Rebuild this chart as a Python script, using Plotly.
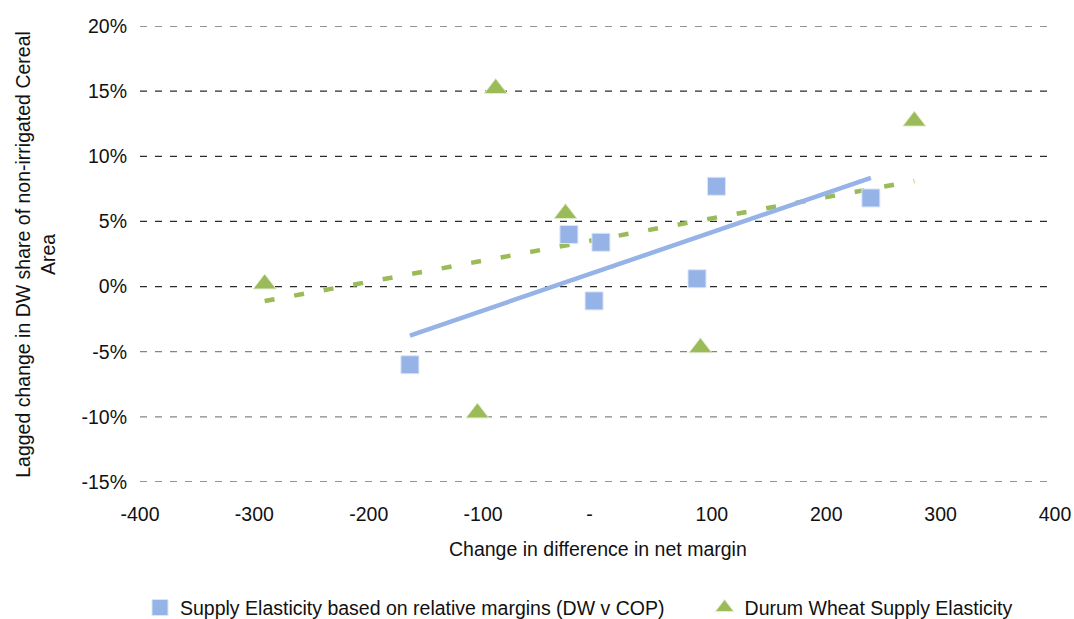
import numpy as np
import plotly.graph_objects as go

# Supply Elasticity based on relative margins (DW v COP)
blue_x = [-164, -25, 3, -3, 87, 104, 239]
blue_y = [-0.060, 0.040, 0.034, -0.011, 0.006, 0.077, 0.068]

# Durum Wheat Supply Elasticity
green_x = [-291, -89, -28, -105, 90, 277]
green_y = [0.002, 0.152, 0.056, -0.097, -0.047, 0.127]

x_ticks = [-400, -300, -200, -100, 0, 100, 200, 300, 400]
x_ticktext = ["-400", "-300", "-200", "-100", "-\u00a0\u00a0\u00a0", "100", "200", "300", "400"]
y_ticks = [-0.15, -0.10, -0.05, 0.0, 0.05, 0.10, 0.15, 0.20]
y_ticktext = ["-15%", "-10%", "-5%", "0%", "5%", "10%", "15%", "20%"]

series_names = ["Supply Elasticity based on relative margins (DW v COP)",
                "Durum Wheat Supply Elasticity"]

BLUE = "#95B3E7"
GREEN = "#9BBB59"
FONT = "Liberation Sans, Arial, sans-serif"
FS = 19.5

fig = go.Figure()

# trendlines (linear fit over data range)
bx = np.array(blue_x, dtype=float); by = np.array(blue_y)
gx = np.array(green_x, dtype=float); gy = np.array(green_y)
bp = np.polyfit(bx, by, 1)
gp = np.polyfit(gx, gy, 1)
bxl = np.array([bx.min(), bx.max()])
gxl = np.array([gx.min(), gx.max()])

fig.add_trace(go.Scatter(x=gxl, y=np.polyval(gp, gxl), mode="lines",
                         line=dict(color=GREEN, width=4.5, dash="10px,20px"),
                         showlegend=False, hoverinfo="skip"))
fig.add_trace(go.Scatter(x=bxl, y=np.polyval(bp, bxl), mode="lines",
                         line=dict(color=BLUE, width=4.5),
                         showlegend=False, hoverinfo="skip"))

fig.add_trace(go.Scatter(x=blue_x, y=blue_y, mode="markers", name=series_names[0],
                         legend="legend",
                         marker=dict(symbol="square", size=18, color=BLUE,
                                     line=dict(color="#DCE6F5", width=1))))
fig.add_trace(go.Scatter(x=green_x, y=green_y, mode="markers", name=series_names[1],
                         legend="legend2",
                         marker=dict(symbol="triangle-up", size=20, color=GREEN,
                                     line=dict(color="#E3EDD0", width=1))))

# dashed gridlines
for yv in y_ticks:
    col = "#858585" if (-0.15 < yv < 0) else "#2b2b2b"
    fig.add_shape(type="line", xref="paper", yref="y", x0=0, x1=1, y0=yv, y1=yv,
                  line=dict(color=col, width=1.2, dash="7px,8px"), layer="below")

legend_common = dict(orientation="h", xanchor="left", y=-0.276, yanchor="middle",
                     font=dict(size=FS), bgcolor="rgba(0,0,0,0)")

fig.update_layout(
    width=1074, height=619,
    margin=dict(l=140, r=19, t=26, b=137, autoexpand=False),
    paper_bgcolor="white", plot_bgcolor="white",
    font=dict(family=FONT, size=FS, color="#111111"),
    showlegend=True,
    legend=dict(x=0.0, **legend_common),
    legend2=dict(x=0.617, **legend_common),
    xaxis=dict(range=[-400, 400], tickvals=x_ticks, ticktext=x_ticktext,
               showgrid=False, zeroline=False, showline=False,
               ticks="", ticklabelstandoff=18, fixedrange=True, automargin=False),
    yaxis=dict(range=[-0.15, 0.20], tickvals=y_ticks, ticktext=y_ticktext,
               showgrid=False, zeroline=False, showline=False,
               ticks="", ticklabelstandoff=12, fixedrange=True, automargin=False),
    annotations=[
        dict(text="Change in difference in net margin", xref="paper", yref="paper",
             x=0.5, y=-0.148, xanchor="center", yanchor="middle", showarrow=False,
             font=dict(size=FS)),
        dict(text="Lagged change in DW share of non-irrigated Cereal<br>Area",
             xref="paper", yref="paper", x=-0.115, y=0.5, xanchor="center",
             yanchor="middle", textangle=-90, showarrow=False, font=dict(size=FS)),
    ],
)

fig.write_html("out.html")
